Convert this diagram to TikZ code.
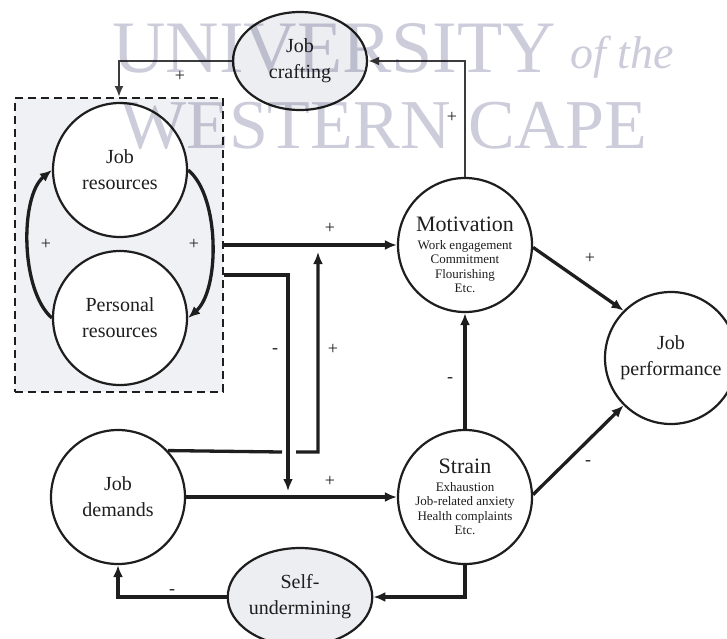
\documentclass[tikz,border=0pt]{standalone}
\usepackage{fontspec}
\setmainfont{Liberation Serif}
\usetikzlibrary{shapes.geometric,arrows.meta}
\definecolor{boxfill}{RGB}{240,241,244}
\definecolor{ellfill}{RGB}{236,238,242}
\definecolor{wm}{RGB}{204,204,218}
\definecolor{ink}{RGB}{30,30,30}
\definecolor{ink2}{RGB}{60,60,60}
\begin{document}
\begin{tikzpicture}[x=1pt,y=-1pt,
  bigcirc/.style={circle,draw=ink,line width=2.2pt,fill=white,minimum size=134pt,inner sep=0pt,align=center,text=ink,font=\fontsize{20}{26}\selectfont},
  ell/.style={ellipse,draw=ink,line width=2.2pt,fill=ellfill,minimum width=134pt,minimum height=98pt,inner sep=0pt,align=center,text=ink,font=\fontsize{20}{26}\selectfont},
  conn/.style={line width=3.3pt,draw=ink,-{Latex[length=12pt,width=10pt]}},
  thinconn/.style={line width=2.4pt,draw=ink2,-{Latex[length=11pt,width=9pt]}},
  lbl/.style={text=ink,font=\fontsize{18}{18}\selectfont,inner sep=0pt},
  wmark/.style={text=wm,inner sep=0pt,anchor=base west}
]
\useasboundingbox (0,0) rectangle (727,638);

% dashed resources box
\node[draw=ink,dash pattern=on 8pt off 5pt,line width=1.9pt,fill=boxfill,
      minimum width=208pt,minimum height=294pt,inner sep=0pt] (box) at (119,245) {};

% nodes
\node[ell] (jc) at (300,61) {Job\\crafting};
\node[bigcirc] (jr) at (120,170) {Job\\resources};
\node[bigcirc] (pr) at (120,318) {Personal\\resources};
\node[bigcirc] (jd) at (118,497) {Job\\demands};
\node[bigcirc] (mot) at (465,245) {};
\node[align=center,text=ink,inner sep=0pt,font=\fontsize{13}{14.5}\selectfont] (mottxt) at (465,255)
  {{\fontsize{22}{24}\selectfont Motivation}\\[3pt]
   Work engagement\\Commitment\\Flourishing\\Etc.};
\node[bigcirc] (str) at (465,497) {};
\node[align=center,text=ink,inner sep=0pt,font=\fontsize{13}{14.5}\selectfont] (strtxt) at (465,497)
  {{\fontsize{22}{24}\selectfont Strain}\\[3pt]
   Exhaustion\\Job-related anxiety\\Health complaints\\Etc.};
\node[bigcirc,minimum size=132pt] (jp) at (671,358) {Job\\performance};
\node[ell] (su) at (300,597) {Self-\\undermining};

% helper coordinates
\coordinate (d2) at (288,491);
\coordinate (gapL) at (282,452);
\coordinate (gapR) at (296,452);
\coordinate (u2) at (318,252);

% connectors
\draw[conn] (box.east) -- (mot.west);
\draw[conn] ([yshift=-30pt]box.east) -| (d2);
\draw[conn] (jd.43) -- (gapL) (gapR) -| (u2);
\draw[conn] (jd.east) -- (str.west);
\draw[conn] (str.north) -- (mot.south);
\draw[conn] (mot.-2) -- (jp.135);
\draw[conn] (str.2) -- (jp.225);
\draw[conn] (str.south) |- (su.east);
\draw[conn] (su.west) -| (jd.south);
\draw[thinconn] (mot.north) |- (jc.east);
\draw[thinconn] (jc.west) -| (box.north);

% reciprocal curved arrows
\draw[conn] (pr.west) .. controls (20,290) and (20,196) .. (jr.west);
\draw[conn] (jr.east) .. controls (220,196) and (220,290) .. (pr.east);

% signs
\node[lbl] (s1) at (180,76) {+};
\node[lbl] (s2) at (452,117) {+};
\node[lbl] (s3) at (46,244) {+};
\node[lbl] (s4) at (194,244) {+};
\node[lbl] (s5) at (330,228) {+};
\node[lbl] (s6) at (275,351) {-};
\node[lbl] (s7) at (333,349) {+};
\node[lbl] (s8) at (450,380) {-};
\node[lbl] (s9) at (590,258) {+};
\node[lbl] (s10) at (588,463) {-};
\node[lbl] (s11) at (330,481) {+};
\node[lbl] (s12) at (172,592) {-};

% watermark
\begin{scope}[blend mode=multiply]
\node[wmark,font=\fontsize{74}{74}\selectfont] (w1) at (112,72) {UNIVERSITY};
\node[wmark,font=\fontsize{46}{46}\selectfont\itshape] (w2) at (570,68) {of the};
\node[wmark,font=\fontsize{70}{70}\selectfont] (w3) at (120,148) {WESTERN CAPE};
\end{scope}
\end{tikzpicture}
\end{document}
